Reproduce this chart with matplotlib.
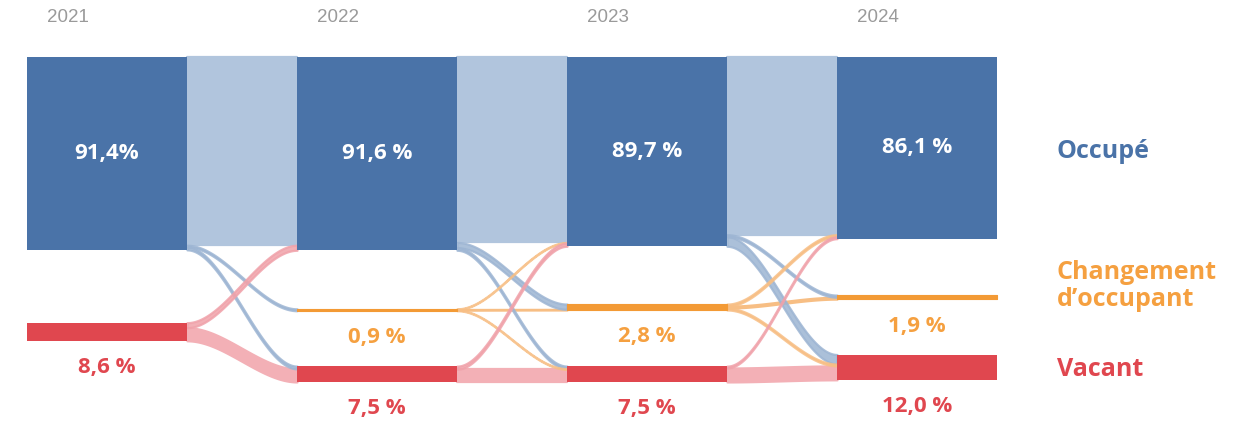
import numpy as np
import matplotlib
matplotlib.use("Agg")
from matplotlib import pyplot as plt

# data (% of dwellings)
years = ['2021', '2022', '2023', '2024']
states = ['Occupé', "Changement\nd’occupant", 'Vacant']
occupe = [91.4, 91.6, 89.7, 86.1]
changement = [0.0, 0.9, 2.8, 1.9]
vacant = [8.6, 7.5, 7.5, 12.0]
occ_labels = ['91,4%', '91,6 %', '89,7 %', '86,1 %']
chg_labels = ['', '0,9 %', '2,8 %', '1,9 %']
vac_labels = ['8,6 %', '7,5 %', '7,5 %', '12,0 %']

# flows between consecutive years: (source state, target state, value)
flows_21_22 = [(0, 0, 89.2), (0, 1, 0.9), (0, 2, 1.3), (2, 0, 2.4), (2, 2, 6.2)]
flows_22_23 = [(0, 0, 87.9), (0, 1, 2.5), (0, 2, 1.2),
               (1, 0, 0.3), (1, 1, 0.3), (1, 2, 0.3),
               (2, 0, 1.5), (2, 2, 6.0)]
flows_23_24 = [(0, 0, 84.2), (0, 1, 1.0), (0, 2, 4.5),
               (1, 0, 1.0), (1, 1, 0.9), (1, 2, 0.9),
               (2, 0, 0.9), (2, 2, 6.6)]
flows = [flows_21_22, flows_22_23, flows_23_24]

# layout (in % units below the top of the bars)
chg_mid = [118, 119.8, 118.5, 113.8]
vac_bottom = [134.5, 154, 154, 153]
px = 2.11      # pixels per %
top = 57
x0, step, w = 27, 270, 160

node_col = ['#4a73a8', '#f39a35', '#e0474f']
link_col = ['#9db5d3', '#f7be84', '#f0a2aa']
self_col = ['#b1c5dd', '#f7be84', '#f3b0b6']
text_col = ['#4a73a8', '#f5a040', '#e0474f']
fnt = 'Open Sans'

fig = plt.figure(figsize=(12.55, 4.24), dpi=100)
ax = fig.add_axes([0, 0, 1, 1])
ax.set_xlim(0, 1255)
ax.set_ylim(424, 0)
ax.axis('off')


def node_span(i, s):
    vals = [occupe, changement, vacant][s]
    v = vals[i]
    if s == 0:
        y0 = 0
    elif s == 1:
        y0 = chg_mid[i] - v / 2
    else:
        y0 = vac_bottom[i] - v
    return top + y0 * px, top + (y0 + v) * px


# nodes
for i in range(len(years)):
    left = x0 + i * step
    for s in range(3):
        vals = [occupe, changement, vacant][s]
        if vals[i] <= 0:
            continue
        a, b = node_span(i, s)
        ax.fill_between([left, left + w], a, b, color=node_col[s], lw=0.8 if s == 1 else 0,
                        edgecolor=node_col[s], zorder=3)

# links
t = np.linspace(0, 1, 80)
sm = 3 * t ** 2 - 2 * t ** 3
for i, fl in enumerate(flows):
    xs = x0 + i * step + w
    xt = x0 + (i + 1) * step
    out_off = {s: node_span(i, s)[0] for s in range(3)}
    in_off = {s: node_span(i + 1, s)[0] for s in range(3)}
    pos_src = {}
    for f in sorted(fl, key=lambda f: (f[0], f[1])):
        pos_src[(f[0], f[1])] = out_off[f[0]]
        out_off[f[0]] += f[2] * px
    pos_tgt = {}
    for f in sorted(fl, key=lambda f: (f[1], f[0])):
        pos_tgt[(f[0], f[1])] = in_off[f[1]]
        in_off[f[1]] += f[2] * px
    for s, d, v in fl:
        sy = pos_src[(s, d)]
        ty = pos_tgt[(s, d)]
        h = v * px
        xx = xs + (xt - xs) * t
        y_top = sy + (ty - sy) * sm
        if s == d:
            col, z = self_col[s], 1
        else:
            col, z = link_col[s], 2
        ax.fill_between(xx, y_top, y_top + h, color=col, edgecolor=col,
                        lw=1.6, alpha=0.85 if s != d else 1, zorder=z)

# texts
for i, y in enumerate(years):
    left = x0 + i * step
    ax.text(left + 20, 18, y, ha='left', va='center', fontsize=13.5,
            color='#9a9a9a', family='Liberation Sans')
    a, b = node_span(i, 0)
    ax.text(left + w / 2, (a + b) / 2, occ_labels[i], ha='center', va='center',
            fontsize=16, color='white', weight='bold', family=fnt, zorder=5)
    if chg_labels[i]:
        a, b = node_span(i, 1)
        ax.text(left + w / 2, b + 27, chg_labels[i], ha='center', va='center',
                fontsize=16, color=text_col[1], weight='bold', family=fnt)
    a, b = node_span(i, 2)
    ax.text(left + w / 2, b + 27, vac_labels[i], ha='center', va='center',
            fontsize=16, color=text_col[2], weight='bold', family=fnt)

ax.text(1057, 151, states[0], ha='left', va='center', fontsize=18,
        color=text_col[0], weight='bold', family=fnt)
ax.text(1057, 286, states[1], ha='left', va='center', fontsize=18,
        color=text_col[1], weight='bold', family=fnt, linespacing=1.15)
ax.text(1057, 370, states[2], ha='left', va='center', fontsize=18,
        color=text_col[2], weight='bold', family=fnt)

plt.savefig('out.png', dpi=100)
